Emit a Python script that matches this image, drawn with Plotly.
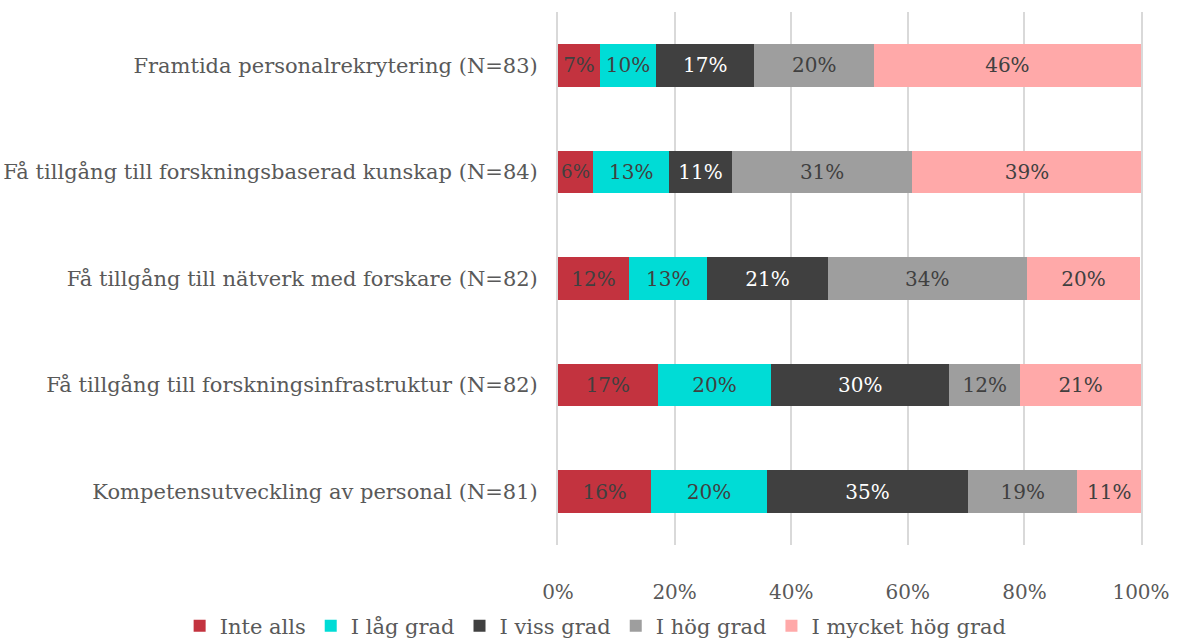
import plotly.graph_objects as go

categories = [
    "Framtida personalrekrytering (N=83)",
    "Få tillgång till forskningsbaserad kunskap (N=84)",
    "Få tillgång till nätverk med forskare (N=82)",
    "Få tillgång till forskningsinfrastruktur (N=82)",
    "Kompetensutveckling av personal (N=81)",
]
series_names = ["Inte alls", "I låg grad", "I viss grad", "I hög grad", "I mycket hög grad"]
inte_alls = [7.2, 6.0, 12.2, 17.1, 16.0]
lag_grad = [9.6, 13.1, 13.4, 19.5, 19.8]
viss_grad = [16.9, 10.7, 20.7, 30.49, 34.6]
hog_grad = [20.48, 31.0, 34.1, 12.2, 18.6]
mycket_hog = [45.8, 39.3, 19.5, 20.7, 11.1]
x_ticks = [0, 20, 40, 60, 80, 100]
x_tick_labels = ["0%", "20%", "40%", "60%", "80%", "100%"]

series_values = [inte_alls, lag_grad, viss_grad, hog_grad, mycket_hog]
colors = ["#C3333F", "#00DCD6", "#404040", "#9E9E9E", "#FFA9A9"]
text_colors = ["#404040", "#404040", "#FFFFFF", "#404040", "#404040"]

FONT = "DejaVu Serif"

fig = go.Figure()
for name, vals, col, tcol in zip(series_names, series_values, colors, text_colors):
    fig.add_trace(go.Bar(
        y=categories,
        x=vals,
        name=name,
        orientation="h",
        marker=dict(color=col, line=dict(width=0)),
        text=[f"{int(v + 0.5)}%" for v in vals],
        textposition="inside",
        insidetextanchor="middle",
        textangle=0,
        textfont=dict(family=FONT, size=20, color=tcol),
        hoverinfo="skip",
    ))

fig.update_layout(
    barmode="stack",
    bargap=0.6,
    width=1181,
    height=641,
    paper_bgcolor="white",
    plot_bgcolor="white",
    margin=dict(l=558, r=40, t=12, b=96, autoexpand=False),
    font=dict(family=FONT, size=20, color="#595959"),
    legend=dict(
        orientation="h",
        xref="paper",
        yref="paper",
        x=-0.649,
        xanchor="left",
        y=-0.152,
        yanchor="middle",
        font=dict(family=FONT, size=21, color="#595959"),
        itemwidth=30,
        traceorder="normal",
        tracegroupgap=0,
    ),
    showlegend=True,
)
fig.update_xaxes(
    range=[0, 100],
    tickvals=x_ticks,
    ticktext=x_tick_labels,
    showgrid=True,
    gridcolor="#D9D9D9",
    gridwidth=2,
    zeroline=False,
    showline=False,
    ticks="",
    automargin=False,
    ticklabelstandoff=33,
    tickfont=dict(family=FONT, size=20, color="#595959"),
)
fig.update_yaxes(
    categoryorder="array",
    categoryarray=categories[::-1],
    showgrid=False,
    zeroline=False,
    showline=True,
    mirror=True,
    linecolor="#D9D9D9",
    linewidth=2,
    ticks="",
    automargin=False,
    ticklabelstandoff=14,
    tickfont=dict(family=FONT, size=21, color="#595959"),
)

fig.write_html(
    "out.html",
    config={"displayModeBar": False},
    post_script="document.body.style.margin='0px';",
)
